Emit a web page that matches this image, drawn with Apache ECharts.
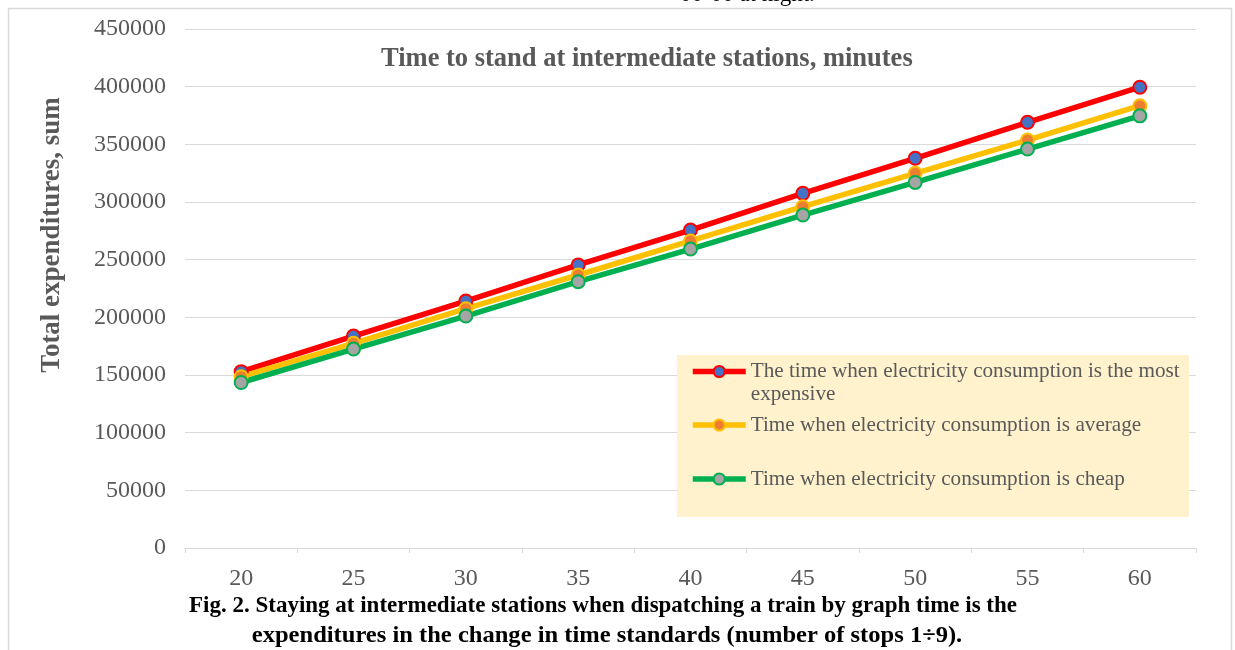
<!DOCTYPE html>
<html>
<head>
<meta charset="utf-8">
<script src="https://cdn.jsdelivr.net/npm/echarts@6/dist/echarts.min.js"></script>
<style>
  html, body { margin: 0; padding: 0; background: #ffffff; }
  #chart { width: 1235px; height: 650px; }
</style>
</head>
<body>
<div id="chart"></div>
<script>
// Stop duration at intermediate stations, minutes
const categories = ['20', '25', '30', '35', '40', '45', '50', '55', '60'];

// Total expenditures (sum) for each electricity tariff period
const expensiveValues = [152900, 183800, 214100, 245400, 275700, 307500, 337900, 369100, 399500];
const averageValues   = [148500, 177500, 207500, 236700, 266200, 295900, 324900, 353700, 383500];
const cheapValues     = [143500, 172500, 201100, 230900, 259200, 288700, 317000, 345900, 374700];

const seriesNames = [
  'The time when electricity consumption is the most expensive',
  'Time when electricity consumption is average',
  'Time when electricity consumption is cheap'
];

const yTicks = { min: 0, max: 450000, interval: 50000 };

const serif = 'Liberation Serif';
const grey = '#595959';

function lineSeries(name, data, lineColor, fillColor) {
  return {
    name: name,
    type: 'line',
    data: data,
    symbol: 'circle',
    symbolSize: 13,
    lineStyle: { color: lineColor, width: 5.5 },
    itemStyle: { color: fillColor, borderColor: lineColor, borderWidth: 2 },
    emphasis: { disabled: true },
    animation: false
  };
}

const legendBase = {
  orient: 'vertical',
  padding: 0,
  itemWidth: 53,
  itemHeight: 14,
  itemGap: 0,
  selectedMode: false,
  lineStyle: { width: 5.5 },
  textStyle: { fontFamily: serif, fontSize: 21.2, color: grey, lineHeight: 23 }
};

const chart = echarts.init(document.getElementById('chart'));
chart.setOption({
  backgroundColor: '#ffffff',
  animation: false,
  title: {
    text: 'Time to stand at intermediate stations, minutes',
    left: 381,
    top: 46,
    padding: 0,
    textStyle: { fontFamily: serif, fontSize: 26.5, fontWeight: 'bold', color: grey }
  },
  grid: { left: 185, right: 39, top: 29, bottom: 102, containLabel: false },
  xAxis: {
    type: 'category',
    data: categories,
    boundaryGap: true,
    axisLine: { show: true, lineStyle: { color: '#d9d9d9', width: 1 } },
    axisTick: { show: true, length: 5, lineStyle: { color: '#d9d9d9' } },
    axisLabel: { fontFamily: serif, fontSize: 24, color: grey, margin: 19 },
    splitLine: { show: false }
  },
  yAxis: {
    type: 'value',
    min: yTicks.min,
    max: yTicks.max,
    interval: yTicks.interval,
    axisLine: { show: false },
    axisTick: { show: false },
    axisLabel: { fontFamily: serif, fontSize: 24, color: grey, margin: 19,
                 formatter: function (v) { return String(v); } },
    splitLine: { lineStyle: { color: '#d9d9d9', width: 1 } }
  },
  legend: [
    Object.assign({}, legendBase, {
      data: [seriesNames[0]],
      left: 690, top: 337,
      // empty first line keeps the icon level with the first text line
      formatter: function () { return '\nThe time when electricity consumption is the most\nexpensive'; }
    }),
    Object.assign({}, legendBase, { data: [seriesNames[1]], left: 690, top: 413.5 }),
    Object.assign({}, legendBase, { data: [seriesNames[2]], left: 690, top: 467.5 })
  ],
  graphic: [
    // outer frame
    { type: 'rect', shape: { x: 8.5, y: 8.5, width: 1223, height: 700 },
      style: { fill: 'none', stroke: '#d9d9d9', lineWidth: 1.5 }, z: -10, silent: true },
    // legend panel
    { type: 'rect', shape: { x: 677, y: 355, width: 512, height: 162 },
      style: { fill: '#fff2cc' }, z: 1, silent: true },
    // running text above the figure
    { type: 'text', left: 680, top: -17,
      style: { text: '00-00 at night.', font: '23px "Liberation Serif"', fill: '#000000' }, silent: true },
    // vertical axis title
    { type: 'text', x: 52, y: 235, rotation: Math.PI / 2,
      style: { text: 'Total expenditures, sum', font: 'bold 27px "Liberation Serif"', fill: grey,
               align: 'center', verticalAlign: 'middle' }, silent: true },
    // figure caption
    { type: 'text', x: 603, y: 606,
      style: { text: 'Fig. 2. Staying at intermediate stations when dispatching a train by graph time is the',
               font: 'bold 23px "Liberation Serif"', fill: '#000000', align: 'center', verticalAlign: 'middle' }, silent: true },
    { type: 'text', x: 607, y: 636, scaleX: 1.067,
      style: { text: 'expenditures in the change in time standards (number of stops 1\u00f79).',
               font: 'bold 23px "Liberation Serif"', fill: '#000000', align: 'center', verticalAlign: 'middle' }, silent: true }
  ],
  series: [
    lineSeries(seriesNames[0], expensiveValues, '#ff0000', '#4472c4'),
    lineSeries(seriesNames[1], averageValues, '#ffc000', '#ed7d31'),
    lineSeries(seriesNames[2], cheapValues, '#00b050', '#a5a5a5')
  ]
});
</script>
</body>
</html>
